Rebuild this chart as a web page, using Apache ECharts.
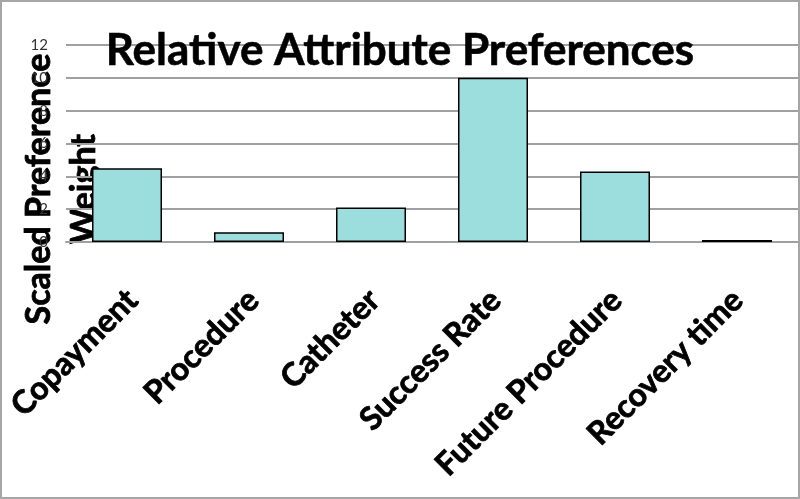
<!DOCTYPE html>
<html>
<head>
<meta charset="utf-8">
<script src="https://cdn.jsdelivr.net/npm/echarts@6/dist/echarts.min.js"></script>
<style>
  html, body { margin: 0; padding: 0; background: #fff; }
  #main { width: 800px; height: 499px; box-sizing: border-box; border: 2px solid #a6a6a6; }
</style>
</head>
<body>
<div id="main"></div>
<script>
// chart data
const categories = ['Copayment', 'Procedure', 'Catheter', 'Success Rate', 'Future Procedure', 'Recovery time']
const weights = [4.5, 0.6, 2.1, 10, 4.3, 0.12]
const yTicks = { min: 0, max: 12, interval: 2 }

const chart = echarts.init(document.getElementById('main'))
const font = 'Lato, "Open Sans", sans-serif'

chart.setOption({
  animation: false,
  title: {
    text: 'Relative Attribute Preferences',
    left: 'center',
    top: 22,
    textStyle: { fontFamily: font, fontSize: 44, fontWeight: 'bold', color: '#000', textBorderColor: '#000', textBorderWidth: 0.6 }
  },
  graphic: [{
    type: 'text',
    x: 60,
    y: 187,
    rotation: Math.PI / 2,
    style: {
      text: 'Scaled Preference\nWeight',
      font: 'bold 34px ' + font,
      lineHeight: 45,
      fill: '#000',
      stroke: '#000',
      lineWidth: 0.8,
      align: 'center',
      verticalAlign: 'middle'
    }
  }],
  grid: [
    { left: 64, right: 0, top: 43, height: 197 },
    { left: 70, right: -6, top: 240, height: 0 } // just for the labels
  ],
  xAxis: [{
    type: 'category',
    gridIndex: 0,
    data: categories,
    axisLine: { lineStyle: { color: '#a0a0a0', width: 2 } },
    axisTick: { show: false },
    axisLabel: { show: false }
  }, {
    type: 'category',
    gridIndex: 1,
    data: categories,
    axisLine: { show: false },
    axisTick: { show: false },
    axisLabel: {
      interval: 0,
      rotate: 45,
      margin: 53,
      fontFamily: font,
      fontSize: 32,
      fontWeight: 'bold',
      color: '#000',
      textBorderColor: '#000',
      textBorderWidth: 0.8
    }
  }],
  yAxis: [{
    type: 'value',
    gridIndex: 0,
    min: yTicks.min,
    max: yTicks.max,
    interval: yTicks.interval,
    axisLine: { show: false },
    axisTick: { show: false },
    axisLabel: { margin: 18, fontFamily: font, fontSize: 15, color: '#333' },
    splitLine: { lineStyle: { color: '#a0a0a0', width: 2 } }
  }, {
    type: 'value',
    gridIndex: 1,
    show: false
  }],
  series: [{
    type: 'bar',
    xAxisIndex: 0,
    yAxisIndex: 0,
    data: weights,
    barWidth: 70,
    itemStyle: { color: '#9cdede', borderColor: '#000', borderWidth: 1.5 }
  }]
})
</script>
</body>
</html>
